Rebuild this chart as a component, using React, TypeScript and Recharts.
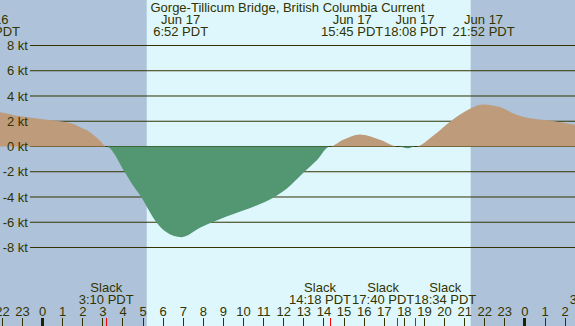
import React from "react";
import {
  ComposedChart,
  Area,
  XAxis,
  YAxis,
  ReferenceArea,
  ReferenceLine,
} from "recharts";

const title = "Gorge-Tillicum Bridge, British Columbia Current";

// hours from midnight Jun 17 (PDT) and current speed in knots (+ flood, - ebb)
const times = [
  -3.0, -2.12, -1.2, -0.63, 0.11, 0.86, 1.2, 1.55, 1.86, 2.2, 2.52, 2.85, 3.167,
  4.09, 4.5, 4.93, 5.34, 5.67, 6.17, 6.91, 7.83, 8.41, 9.15, 9.98, 10.65, 11.47,
  12.14, 13.0, 13.63, 14.3, 14.96, 15.79, 16.78, 17.667, 18.17, 18.567, 19.43,
  20.26, 21.1, 21.9, 22.75, 23.58, 24.41, 25.24, 26.49, 27.3,
];
const knots = [
  2.85, 2.72, 2.42, 2.3, 2.14, 2.0, 1.92, 1.78, 1.53, 1.28, 0.93, 0.47, 0,
  -2.04, -3.09, -4.06, -5.2, -6.02, -6.79, -7.18, -6.44, -6.02, -5.54, -5.07, -4.67, -4.06,
  -3.35, -2.04, -1.11, 0, 0.53, 0.95, 0.53, 0, -0.13, 0, 0.85,
  1.95, 2.85, 3.33, 3.12, 2.51, 2.19, 2.06, 1.72, 1.55,
];

const hourTicks = [
  -2, -1, 0, 1, 2, 3, 4, 5, 6, 7, 8, 9, 10, 11, 12, 13, 14, 15, 16, 17, 18, 19,
  20, 21, 22, 23, 24, 25, 26,
];
const ktLevels = [8, 6, 4, 2, 0, -2, -4, -6, -8];

const slackTimes = [3.167, 14.3, 17.667, 18.567, 27.6];
const slackLabels = ["3:10 PDT", "14:18 PDT", "17:40 PDT", "18:34 PDT", "3:36 PDT"];
const slackNudge = [0, -10, -14.5, 29.5, 0];

const peakTimes = [-2.67, 6.867, 15.75, 18.133, 21.867];
const peakDates = ["Jun 16", "Jun 17", "Jun 17", "Jun 17", "Jun 17"];
const peakLabels = ["21:20 PDT", "6:52 PDT", "15:45 PDT", "18:08 PDT", "21:52 PDT"];
const peakNudge = [0, 0, -7, 8, 1.5];

const sunrise = 5.18;
const sunset = 21.3;

const X_DOMAIN: [number, number] = [-2.12, 26.49];
const Y_DOMAIN: [number, number] = [-14.218, 11.604];
const GRID_START = -0.63;

const INK = "#333300";
const NIGHT = "#aec3d9";
const DAY = "#ddf7fd";
const FLOOD = "#bd9b7b";
const EBB = "#529672";

const data = times.map((t, i) => ({
  t,
  flood: Math.max(knots[i], 0),
  ebb: Math.min(knots[i], 0),
}));

// snap to the pixel grid so 1px ticks stay sharp
const crisp = (x: number) => Math.round(x - 0.5) + 0.5;

function BottomTick(props: any) {
  const { x, y, payload } = props;
  const v = payload.value;
  const px = crisp(x);
  const si = slackTimes.indexOf(v);
  if (si >= 0) {
    const cx = x + slackNudge[si];
    return (
      <g>
        <line x1={px} x2={px} y1={y - 8} y2={y} stroke="#ff0000" />
        <text x={cx} y={y - 34} textAnchor="middle" fill={INK} fontSize={13}>
          Slack
        </text>
        <text x={cx} y={y - 22} textAnchor="middle" fill={INK} fontSize={13}>
          {slackLabels[si]}
        </text>
      </g>
    );
  }
  const h = ((v % 24) + 24) % 24;
  return (
    <g>
      {h === 0 ? (
        <rect x={px - 1.5} y={y - 8} width={3} height={8} fill="#222200" />
      ) : (
        <line x1={px} x2={px} y1={y - 8} y2={y} stroke={INK} />
      )}
      <text x={x} y={y - 10} textAnchor="middle" fill={INK} fontSize={13}>
        {h}
      </text>
    </g>
  );
}

function TopTick(props: any) {
  const { x, y, payload } = props;
  const i = peakTimes.indexOf(payload.value);
  if (i < 0) return null;
  const cx = x + peakNudge[i];
  return (
    <g>
      <text x={cx} y={y + 24} textAnchor="middle" fill={INK} fontSize={13}>
        {peakDates[i]}
      </text>
      <text x={cx} y={y + 36} textAnchor="middle" fill={INK} fontSize={13}>
        {peakLabels[i]}
      </text>
    </g>
  );
}

export default function App() {
  return (
    <div
      style={{
        position: "fixed",
        left: 0,
        top: 0,
        width: 575,
        height: 326,
        background: NIGHT,
        fontFamily: "'Liberation Sans', Arial, sans-serif",
        overflow: "hidden",
      }}
    >
      <ComposedChart
        width={575}
        height={326}
        data={data}
        margin={{ top: 0, right: 0, bottom: 0, left: 0 }}
      >
        <XAxis
          dataKey="t"
          type="number"
          domain={X_DOMAIN}
          allowDataOverflow
          ticks={[...hourTicks, ...slackTimes]}
          interval={0}
          mirror
          height={1}
          tickSize={0}
          tickMargin={0}
          tickLine={false}
          axisLine={false}
          tick={BottomTick}
        />
        <XAxis
          xAxisId="peaks"
          dataKey="t"
          type="number"
          orientation="top"
          domain={X_DOMAIN}
          allowDataOverflow
          ticks={peakTimes}
          interval={0}
          mirror
          height={1}
          tickSize={0}
          tickMargin={0}
          tickLine={false}
          axisLine={false}
          tick={TopTick}
        />
        <YAxis hide type="number" domain={Y_DOMAIN} allowDataOverflow />
        <ReferenceArea
          x1={sunrise}
          x2={sunset}
          fill={DAY}
          fillOpacity={1}
          stroke="none"
          zIndex={-200}
        />
        {ktLevels.map((k) => (
          <ReferenceLine
            key={k}
            segment={[
              { x: GRID_START, y: k },
              { x: X_DOMAIN[1], y: k },
            ]}
            stroke={INK}
            strokeWidth={1}
            zIndex={-50}
            label={{
              value: `${k} kt`,
              position: "left",
              offset: 2,
              fill: INK,
              fontSize: 13,
            }}
          />
        ))}
        <Area
          type="monotone"
          dataKey="flood"
          stroke="none"
          fill={FLOOD}
          fillOpacity={1}
          isAnimationActive={false}
          dot={false}
          activeDot={false}
        />
        <Area
          type="monotone"
          dataKey="ebb"
          stroke="none"
          fill={EBB}
          fillOpacity={1}
          isAnimationActive={false}
          dot={false}
          activeDot={false}
        />
      </ComposedChart>
      <div
        style={{
          position: "absolute",
          left: 0,
          top: 0,
          width: 575,
          textAlign: "center",
          fontSize: 13,
          lineHeight: "15px",
          color: INK,
        }}
      >
        {title}
      </div>
    </div>
  );
}
